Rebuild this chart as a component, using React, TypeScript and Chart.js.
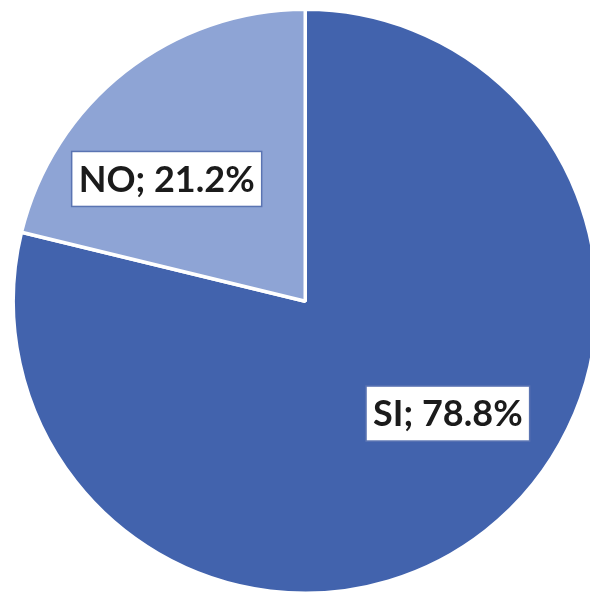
import React, { useEffect, useRef } from "react";
import { Chart, registerables } from "chart.js";

Chart.register(...registerables);

const categories = ["SI", "NO"];
const values = [78.8, 21.2];
const sliceColors = ["#4263AD", "#8EA4D5"];

const labelPlugin = {
  id: "boxLabels",
  afterDatasetsDraw(chart: any) {
    const ctx = chart.ctx;
    const meta = chart.getDatasetMeta(0);
    const shift = (-12 * Math.PI) / 180;
    meta.data.forEach((arc: any, i: number) => {
      const p = arc.getProps(["x", "y", "startAngle", "endAngle", "outerRadius"], true);
      const mid = (p.startAngle + p.endAngle) / 2 + shift;
      const r = p.outerRadius * 0.627;
      const cx = p.x + Math.cos(mid) * r + 2;
      const cy = p.y + Math.sin(mid) * r - 5;
      const text = `${categories[i]}; ${values[i].toFixed(1)}%`;
      ctx.save();
      ctx.font = "bold 36px Lato, 'Open Sans', sans-serif";
      const tw = ctx.measureText(text).width;
      const w = tw + 14;
      const h = 55;
      ctx.fillStyle = "#ffffff";
      ctx.fillRect(cx - w / 2, cy - h / 2, w, h);
      ctx.lineWidth = 1.5;
      ctx.strokeStyle = "#5A74B2";
      ctx.strokeRect(cx - w / 2, cy - h / 2, w, h);
      ctx.fillStyle = "#1b1b1b";
      ctx.textAlign = "center";
      ctx.textBaseline = "middle";
      ctx.fillText(text, cx, cy + 1);
      ctx.restore();
    });
  },
};

export default function App() {
  const ref = useRef<HTMLCanvasElement | null>(null);
  useEffect(() => {
    if (!ref.current) return;
    const chart = new Chart(ref.current, {
      type: "pie",
      data: {
        labels: categories,
        datasets: [
          {
            data: values,
            backgroundColor: sliceColors,
            borderColor: "#ffffff",
            borderWidth: 3.5,
          },
        ],
      },
      options: {
        responsive: false,
        animation: false,
        devicePixelRatio: 1,
        layout: { padding: { left: 11.5, right: 1, top: 7.5, bottom: 5 } },
        plugins: {
          legend: { display: false },
          tooltip: { enabled: false },
        },
      },
      plugins: [labelPlugin],
    });
    return () => chart.destroy();
  }, []);
  return (
    <div
      style={{
        position: "fixed",
        left: 0,
        top: 0,
        width: 590,
        height: 594,
        overflow: "hidden",
        background: "#ffffff",
      }}
    >
      <canvas ref={ref} width={600} height={600} style={{ display: "block" }} />
    </div>
  );
}
